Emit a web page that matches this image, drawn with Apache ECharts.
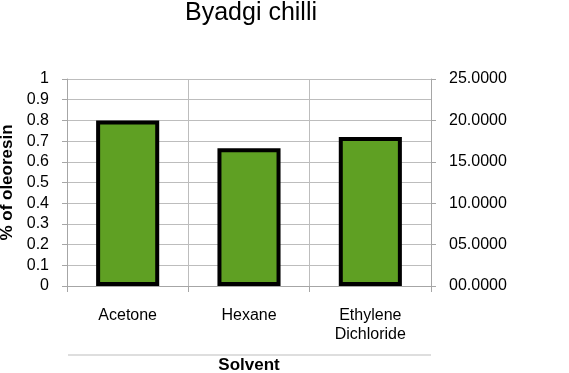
<!DOCTYPE html>
<html>
<head>
<meta charset="utf-8">
<script src="https://cdn.jsdelivr.net/npm/echarts@6/dist/echarts.min.js"></script>
<style>html,body{margin:0;padding:0;background:#fff;}#c{width:569px;height:373px;}</style>
</head>
<body>
<div id="c"></div>
<script>
const categories = ['Acetone', 'Hexane', 'Ethylene\nDichloride'];
const oleoresin = [0.80, 0.665, 0.72];
const leftTicks = [0, 0.1, 0.2, 0.3, 0.4, 0.5, 0.6, 0.7, 0.8, 0.9, 1];
const rightTicks = [0, 5, 10, 15, 20, 25];

const chart = echarts.init(document.getElementById('c'), null, {renderer: 'canvas'});
const font = 'Liberation Sans, Arial, sans-serif';
const grey = '#a6a6a6';
chart.setOption({
  animation: false,
  textStyle: {fontFamily: font},
  title: {
    text: 'Byadgi chilli', left: 185, top: 1, padding: 0,
    textStyle: {fontSize: 25, fontWeight: 'normal', color: '#000', fontFamily: font}
  },
  grid: {left: 67, right: 138, top: 79, bottom: 87, containLabel: false, outerBoundsMode: 'none'},
  xAxis: {
    type: 'category', data: categories,
    name: 'Solvent', nameLocation: 'middle', nameGap: 71,
    nameTextStyle: {fontSize: 17, fontWeight: 'bold', color: '#000', fontFamily: font},
    axisLine: {show: true, lineStyle: {color: grey, width: 1}},
    axisTick: {show: true, length: 6, lineStyle: {color: grey}},
    splitLine: {show: true, lineStyle: {color: '#bdbdbd', width: 1}},
    axisLabel: {color: '#000', fontSize: 16, margin: 20, lineHeight: 19, fontFamily: font}
  },
  yAxis: [{
    type: 'value', min: 0, max: 1, interval: 0.1,
    name: '% of oleoresin', nameLocation: 'middle', nameGap: 47, nameRotate: 90,
    nameTextStyle: {fontSize: 17, fontWeight: 'bold', color: '#000', fontFamily: font},
    axisLine: {show: true, lineStyle: {color: grey}},
    axisTick: {show: true, length: 5, lineStyle: {color: grey}},
    splitLine: {show: true, lineStyle: {color: '#bdbdbd'}},
    axisLabel: {color: '#000', fontSize: 16, margin: 18, fontFamily: font,
      formatter: v => { const t = leftTicks.find(x => Math.abs(x - v) < 1e-9); return t === undefined ? '' : String(t); }}
  }, {
    type: 'value', min: 0, max: 25, interval: 5, position: 'right',
    axisLine: {show: true, lineStyle: {color: grey}},
    axisTick: {show: true, length: 5, lineStyle: {color: grey}},
    splitLine: {show: false},
    axisLabel: {color: '#000', fontSize: 16, margin: 18, fontFamily: font,
      formatter: v => { const t = rightTicks.find(x => Math.abs(x - v) < 1e-9); return t === undefined ? '' : (t < 10 ? '0' : '') + t.toFixed(4); }}
  }],
  graphic: [{
    type: 'line', shape: {x1: 68, y1: 355, x2: 431, y2: 355},
    style: {stroke: '#bdbdbd', lineWidth: 1}
  }],
  series: [{
    type: 'bar', data: oleoresin, yAxisIndex: 0, barWidth: '52%',
    itemStyle: {color: '#5fa023', borderColor: '#000', borderWidth: 4}
  }]
});
</script>
</body>
</html>
